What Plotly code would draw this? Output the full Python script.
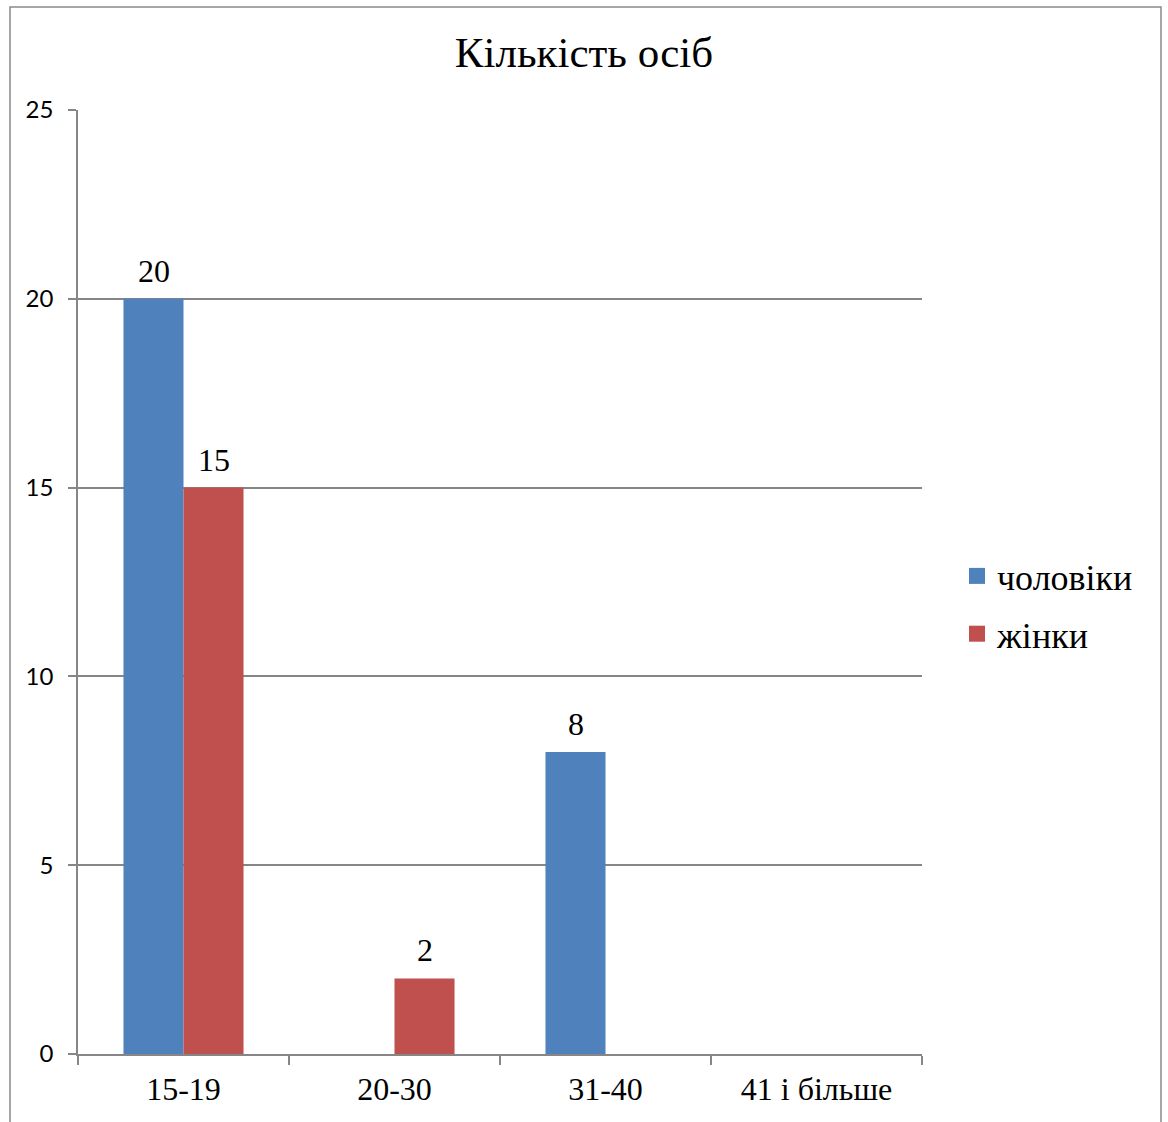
import plotly.graph_objects as go

categories = ["15-19", "20-30", "31-40", "41 і більше"]
men = [20, None, 8, None]
women = [15, 2, None, None]
series_names = ["чоловіки", "жінки"]
colors = ["#4F81BD", "#C0504D"]
y_ticks = [0, 5, 10, 15, 20, 25]

W, H = 1168, 1122
L, R, T, B = 78, 922, 110, 1054

serif = "Liberation Serif, Times New Roman, serif"
sans = "Lato, Carlito, Calibri, sans-serif"

BAR_PX = 60  # half-group offset for labels (style)

fig = go.Figure()
annotations = []
for i, (name, vals) in enumerate(zip(series_names, [men, women])):
    fig.add_trace(go.Bar(
        x=categories, y=vals, name=name, showlegend=False,
        marker=dict(color=colors[i], line=dict(width=0)),
    ))
    # legend proxy with larger square marker
    fig.add_trace(go.Scatter(
        x=[None], y=[None], mode="markers", name=name, legendgroup=name,
        marker=dict(symbol="square", size=18, color=colors[i]),
    ))
    shift = (-0.5 if i == 0 else 0.5) * BAR_PX
    for c, v in zip(categories, vals):
        if v is not None:
            annotations.append(dict(
                x=c, y=v, xref="x", yref="y", text=str(v), showarrow=False,
                xshift=shift, yshift=28, yanchor="middle",
                font=dict(family=serif, size=32, color="black"),
            ))

def px_x(px):
    return (px - L) / (R - L)

def px_y(py):
    return (B - py) / (B - T)

fig.update_layout(
    width=W, height=H,
    margin=dict(l=L, r=W - R, t=T, b=H - B, autoexpand=False),
    paper_bgcolor="white", plot_bgcolor="white",
    barmode="group", bargap=0.431, bargroupgap=0,
    title=dict(text="Кількість осіб", x=0.5, xanchor="center", y=1 - 52 / H, yanchor="middle",
               font=dict(family=serif, size=43, color="black")),
    showlegend=True,
    legend=dict(x=px_x(957), xanchor="left", y=px_y(605), yanchor="middle",
                font=dict(family=serif, size=36, color="black"),
                tracegroupgap=8, itemwidth=30, bgcolor="rgba(0,0,0,0)"),
    xaxis=dict(
        type="category", showgrid=False, showline=True, linecolor="#868686", linewidth=1.5,
        ticks="outside", tickson="boundaries", ticklen=9, tickcolor="#868686", tickwidth=1.5,
        tickfont=dict(family=serif, size=32, color="black"), ticklabelstandoff=6,
    ),
    yaxis=dict(
        range=[0, 25], tickvals=y_ticks, showgrid=True, gridcolor="#868686", gridwidth=1.5,
        showline=True, linecolor="#868686", linewidth=1.5, zeroline=False,
        ticks="outside", ticklen=8, tickcolor="#868686", tickwidth=1.5,
        tickfont=dict(family=sans, size=24, color="black"), ticklabelstandoff=10,
    ),
    annotations=annotations,
    shapes=[dict(type="rect", xref="paper", yref="paper",
                 x0=px_x(10), x1=px_x(1161), y0=px_y(1140), y1=px_y(7),
                 line=dict(color="#898989", width=1.5), layer="below")],
)

fig.write_html("out.html", config={"displayModeBar": False},
               post_script="document.body.style.margin='0';")
